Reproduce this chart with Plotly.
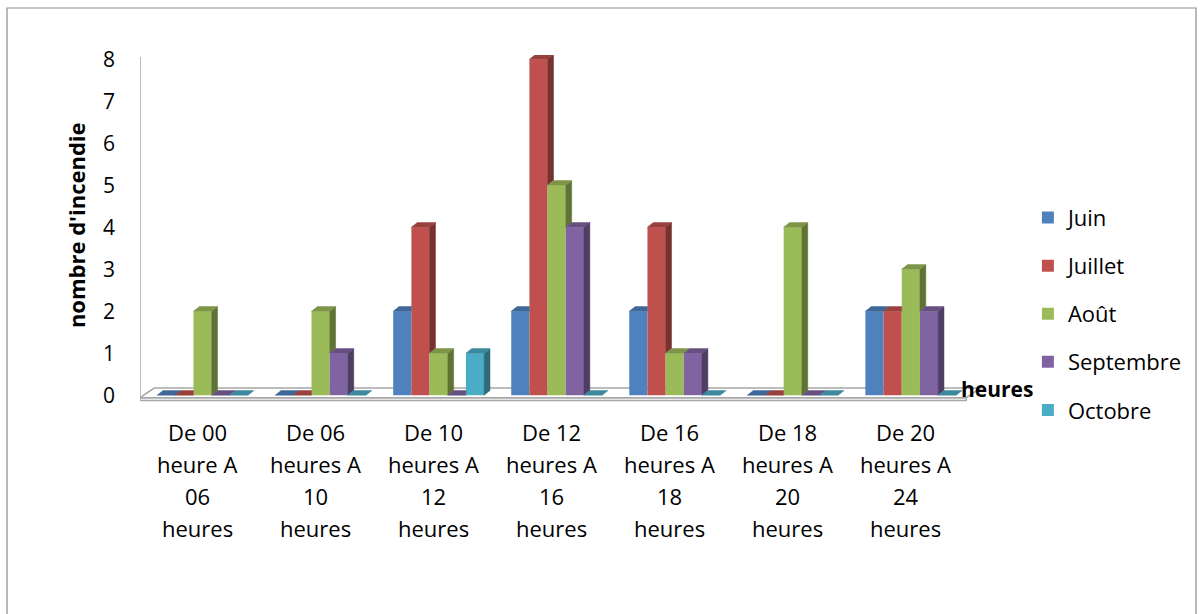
import plotly.graph_objects as go

# ---------------- data ----------------
cat_lines = [
    ["De 00", "heure A", "06", "heures"],
    ["De 06", "heures A", "10", "heures"],
    ["De 10", "heures A", "12", "heures"],
    ["De 12", "heures A", "16", "heures"],
    ["De 16", "heures A", "18", "heures"],
    ["De 18", "heures A", "20", "heures"],
    ["De 20", "heures A", "24", "heures"],
]
series_names = ["Juin", "Juillet", "Août", "Septembre", "Octobre"]
juin = [0, 0, 2, 2, 2, 0, 2]
juillet = [0, 0, 4, 8, 4, 0, 2]
aout = [2, 2, 1, 5, 1, 4, 3]
septembre = [0, 1, 0, 4, 1, 0, 2]
octobre = [0, 0, 1, 0, 0, 0, 0]
series_values = [juin, juillet, aout, septembre, octobre]
y_ticks = [0, 1, 2, 3, 4, 5, 6, 7, 8]

# ---------------- style ----------------
colors = ["#4F81BD", "#C0504D", "#9BBB59", "#8064A2", "#4BACC6"]
FONT = "Open Sans"
W = 0.154          # bar width (category units)
OFF0 = -0.355      # offset of first bar in group
DX = 0.05          # 3D depth offset in x
DY = 0.11          # 3D depth offset in y


def shade(hexc, f):
    r, g, b = int(hexc[1:3], 16), int(hexc[3:5], 16), int(hexc[5:7], 16)
    return "#%02x%02x%02x" % (int(r * f), int(g * f), int(b * f))


xs = list(range(len(cat_lines)))
fig = go.Figure()

# front faces
for j, (name, vals) in enumerate(zip(series_names, series_values)):
    fig.add_trace(go.Bar(
        x=xs, y=vals, width=W, offset=OFF0 + j * W,
        marker=dict(color=colors[j], line=dict(width=0)),
        name=name, legendgroup=name, hoverinfo="skip",
    ))

# side and top faces (3D effect), computed from data
for j, vals in enumerate(series_values):
    nxt = series_values[j + 1] if j + 1 < len(series_values) else None
    sx, sy, tx, ty = [], [], [], []
    for i, v in enumerate(vals):
        xl = i + OFF0 + j * W
        xr = xl + W
        nv = nxt[i] if nxt is not None else 0
        lo = nv if nxt is not None else 0
        if v > lo:
            sx += [xr, xr + DX, xr + DX, xr, xr, None]
            sy += [lo, lo + DY, v + DY, v, lo, None]
        if nxt is not None and nv > v:
            tx += [xl, xl + DX, xr, xr, xl, None]
            ty += [v, v + DY, v + DY, v, v, None]
        else:
            tx += [xl, xl + DX, xr + DX, xr, xl, None]
            ty += [v, v + DY, v + DY, v, v, None]
    if sx:
        fig.add_trace(go.Scatter(x=sx, y=sy, mode="lines", fill="toself",
                                 fillcolor=shade(colors[j], 0.62),
                                 line=dict(color=shade(colors[j], 0.62), width=0.5),
                                 showlegend=False, hoverinfo="skip"))
    fig.add_trace(go.Scatter(x=tx, y=ty, mode="lines", fill="toself",
                             fillcolor=shade(colors[j], 0.8),
                             line=dict(color=shade(colors[j], 0.8), width=0.5),
                             showlegend=False, hoverinfo="skip"))

shapes = [
    dict(type="path", xref="x", yref="y", layer="below",
         path="M -0.5,-0.13 L 6.5,-0.13 L 6.5,-0.06 L -0.5,-0.06 Z",
         fillcolor="#E6E6E6", line=dict(color="#A6A6A6", width=1.2)),
    dict(type="path", xref="x", yref="y", layer="below",
         path="M -0.5,-0.06 L 6.5,-0.06 L 6.62,0.17 L -0.38,0.17 Z",
         fillcolor="white", line=dict(color="#A6A6A6", width=1.5)),
    dict(type="line", xref="x", yref="y", layer="below",
         x0=-0.5, x1=-0.5, y0=-0.06, y1=8.05,
         line=dict(color="#A6A6A6", width=1.5)),
    dict(type="rect", xref="paper", yref="paper",
         x0=-0.1576, x1=1.2512, y0=-0.6, y1=1.1317,
         line=dict(color="#8C8C8C", width=1.2), fillcolor="rgba(0,0,0,0)"),
]

annotations = []
line_y = [-0.056, -0.1457, -0.2353, -0.325]
for i, lines in enumerate(cat_lines):
    for k, t in enumerate(lines):
        annotations.append(dict(x=i - 0.015, y=line_y[k], xref="x", yref="paper",
                                text=t, showarrow=False, xanchor="center",
                                yanchor="middle",
                                font=dict(family=FONT, size=22, color="black")))
annotations.append(dict(x=-0.0758, y=4.05, xref="paper", yref="y",
                        text="<b>nombre d'incendie</b>", textangle=-90,
                        showarrow=False, xanchor="center", yanchor="middle",
                        font=dict(family=FONT, size=22, color="black")))
annotations.append(dict(x=1.0154, y=0.14, xref="paper", yref="y",
                        text="<b>heures</b>", showarrow=False,
                        xanchor="center", yanchor="middle",
                        font=dict(family=FONT, size=21, color="black")))

fig.update_layout(
    width=1202, height=614,
    margin=dict(l=140, r=218, t=55, b=202),
    paper_bgcolor="white", plot_bgcolor="white",
    barmode="overlay",
    showlegend=True,
    legend=dict(x=1.052, y=0.603, xanchor="left", yanchor="top",
                traceorder="grouped", tracegroupgap=16.5,
                font=dict(family=FONT, size=22, color="black"),
                bgcolor="rgba(0,0,0,0)"),
    xaxis=dict(range=[-0.5, 6.65], showticklabels=False, showgrid=False,
               zeroline=False, showline=False, ticks=""),
    yaxis=dict(range=[-0.4, 8.1], tickvals=y_ticks, showgrid=False,
               zeroline=False, showline=False, ticks="",
               ticklabelstandoff=24,
               tickfont=dict(family=FONT, size=21, color="black")),
    shapes=shapes,
    annotations=annotations,
    font=dict(family=FONT),
)

fig.write_html("out.html",
               config={"displayModeBar": False},
               post_script="document.body.style.margin='0';document.body.style.overflow='hidden';")
